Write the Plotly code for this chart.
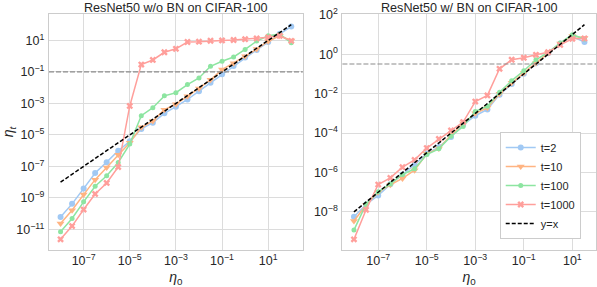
import numpy as np
import plotly.graph_objects as go

# ---------------- data (log10 values) ----------------
x_left_log = [-8 + 0.5 * k for k in range(21)]
x_right_log = [-8 + 0.5 * k for k in range(20)]

left_t2 = [-10.22, -9.38, -8.41, -7.42, -6.73, -6.01, -5.40, -4.62, -4.22, -3.63, -3.21,
           -2.75, -2.22, -1.69, -1.15, -0.62, -0.08, 0.40, 0.90, 1.42, 1.88]
left_t10 = [-10.62, -9.78, -8.79, -7.84, -7.07, -6.26, -5.50, -4.52, -4.12, -3.40, -3.05,
            -2.55, -2.05, -1.50, -0.85, -0.45, 0.00, 0.45, 0.95, 1.30, 1.00]
left_t100 = [-11.15, -10.31, -9.25, -8.26, -7.59, -6.75, -5.58, -3.78, -3.27, -2.52, -2.32,
             -1.80, -1.38, -0.64, -0.32, -0.05, 0.43, 0.96, 1.30, 1.40, 0.85]
left_t1000 = [-11.63, -10.79, -9.74, -8.75, -8.05, -7.04, -3.16, -0.53, -0.24, 0.25, 0.47,
              0.90, 0.92, 0.98, 1.00, 1.03, 1.08, 1.13, 1.20, 1.30, 0.97]

right_t2 = [-8.24, -7.62, -7.16, -6.60, -6.10, -5.60, -5.05, -4.70, -4.20, -3.58, -3.12,
            -2.80, -2.05, -1.51, -0.99, -0.46, 0.05, 0.55, 0.90, 0.62]
right_t10 = [-8.46, -7.65, -7.00, -6.62, -6.30, -5.88, -5.05, -4.78, -4.10, -3.50, -3.00,
             -2.72, -2.00, -1.45, -0.95, -0.45, 0.07, 0.55, 0.92, 0.82]
right_t100 = [-8.92, -7.60, -6.98, -6.58, -6.10, -5.81, -5.09, -4.80, -4.16, -3.66, -2.90,
              -2.64, -1.93, -1.34, -0.84, -0.28, 0.09, 0.57, 0.99, 0.77]
right_t1000 = [-9.39, -7.89, -6.61, -6.27, -5.73, -5.36, -4.76, -4.30, -3.87, -3.44, -2.40,
               -2.09, -0.74, -0.28, -0.18, -0.03, 0.10, 0.47, 0.78, 0.80]

threshold_left = 0.1
threshold_right = 0.32

titles = ["ResNet50 w/o BN on CIFAR-100", "ResNet50 w/ BN on CIFAR-100"]
series_names = ["t=2", "t=10", "t=100", "t=1000"]
colors = ["#a1c9f4", "#ffb482", "#8de5a1", "#ff9f9b"]
symbols = ["circle", "triangle-down", "circle", "x"]
sizes = [6, 7, 5, 6]

x_tick_exps = [-7, -5, -3, -1, 1]
left_y_tick_exps = [1, -1, -3, -5, -7, -9, -11]
right_y_tick_exps = [2, 0, -2, -4, -6, -8]

# ---------------- figure ----------------
fig = go.Figure()

def p10(v):
    return [10 ** a for a in v]

def tick_text(exps):
    return ["10<sup>%s</sup>" % (str(e).replace("-", "\u2212")) for e in exps]

left_series = [left_t2, left_t10, left_t100, left_t1000]
right_series = [right_t2, right_t10, right_t100, right_t1000]

for i in range(4):
    fig.add_trace(go.Scatter(
        x=p10(x_left_log), y=p10(left_series[i]), mode="lines+markers",
        name=series_names[i], showlegend=False, xaxis="x", yaxis="y",
        line=dict(color=colors[i], width=1.5),
        marker=dict(symbol=symbols[i], size=sizes[i], color=colors[i])))
fig.add_trace(go.Scatter(
    x=p10(x_left_log), y=p10(x_left_log), mode="lines", name="y=x", showlegend=False,
    xaxis="x", yaxis="y", line=dict(color="black", width=1.5, dash="4px,2px")))

for i in range(4):
    fig.add_trace(go.Scatter(
        x=p10(x_right_log), y=p10(right_series[i]), mode="lines+markers",
        name=series_names[i], showlegend=True, xaxis="x2", yaxis="y2",
        line=dict(color=colors[i], width=1.5),
        marker=dict(symbol=symbols[i], size=sizes[i], color=colors[i])))
fig.add_trace(go.Scatter(
    x=p10(x_right_log), y=p10(x_right_log), mode="lines", name="y=x", showlegend=True,
    xaxis="x2", yaxis="y2", line=dict(color="black", width=1.5, dash="4px,2px")))

grid = "#dcdcdc"
spine = "#cccccc"
FONT = "Liberation Sans, Arial, sans-serif"
tickfont = dict(family=FONT, size=12.5, color="#262626")
titlefont = dict(family=FONT, size=14, color="#262626")

def axis_common(exps, **kw):
    d = dict(type="log", showgrid=True, gridcolor=grid, gridwidth=1,
             showline=True, linecolor=spine, linewidth=1.2, mirror=True,
             zeroline=False, ticks="", automargin=False,
             tickmode="array", tickvals=[10.0 ** e for e in exps], ticktext=tick_text(exps),
             tickfont=tickfont)
    d.update(kw)
    return d

fig.update_layout(
    width=597, height=287,
    margin=dict(l=49, r=1, t=13.5, b=36.5),
    paper_bgcolor="white", plot_bgcolor="white",
    xaxis=axis_common(x_tick_exps, domain=[0, 0.464], range=[-8.5, 2.5], anchor="y",
                      ticklabelstandoff=-1,
                      title=dict(text="<i>η</i><sub>0</sub>", standoff=5, font=titlefont)),
    yaxis=axis_common(left_y_tick_exps, domain=[0, 1], range=[-12.31, 2.68], anchor="x",
                      ticklabelstandoff=1,
                      title=dict(text="<i>η</i><sub><i>t</i></sub>", standoff=0, font=titlefont)),
    xaxis2=axis_common(x_tick_exps, domain=[0.5364, 1], range=[-8.475, 1.975], anchor="y2",
                       ticklabelstandoff=-1,
                       title=dict(text="<i>η</i><sub>0</sub>", standoff=5, font=titlefont)),
    yaxis2=axis_common(right_y_tick_exps, domain=[0, 1], range=[-9.93, 2.04], anchor="x2",
                       ticklabelstandoff=1),
    legend=dict(x=0.824, y=0.5, xanchor="left", yanchor="top",
                bgcolor="white", bordercolor="#cccccc", borderwidth=1,
                font=dict(family=FONT, size=11, color="#262626"),
                itemwidth=30, tracegroupgap=0),
    shapes=[
        dict(type="line", xref="x domain", yref="y", x0=0, x1=1,
             y0=threshold_left, y1=threshold_left,
             line=dict(color="#8c8c8c", width=1.2, dash="5px,2px")),
        dict(type="line", xref="x2 domain", yref="y2", x0=0, x1=1,
             y0=threshold_right, y1=threshold_right,
             line=dict(color="#8c8c8c", width=1.2, dash="5px,2px")),
    ],
    annotations=[
        dict(text=titles[0], xref="paper", yref="paper", x=0.232, y=1, xanchor="center",
             yanchor="bottom", yshift=-3, showarrow=False,
             font=dict(family=FONT, size=12.6, color="#262626")),
        dict(text=titles[1], xref="paper", yref="paper", x=0.768, y=1, xanchor="center",
             yanchor="bottom", yshift=-3, showarrow=False,
             font=dict(family=FONT, size=12.6, color="#262626")),
    ],
)

fig.write_html("out.html", config={"displayModeBar": False},
               post_script="document.body.style.margin='0px';document.body.style.overflow='hidden';")
